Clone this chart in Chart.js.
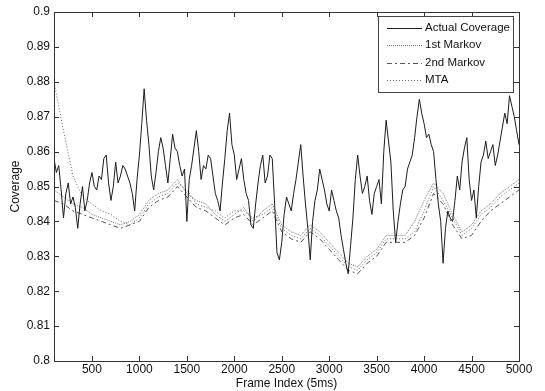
<!DOCTYPE html>
<html>
<head>
<meta charset="utf-8">
<script src="https://cdn.jsdelivr.net/npm/chart.js@4.4.0/dist/chart.umd.min.js"></script>
<style>
html, body { margin: 0; padding: 0; background: #fff; }
canvas { display: block; }
</style>
</head>
<body>
<canvas id="myChart" width="545" height="391"></canvas>
<script>
// frame index of each sample of the measured coverage (every 25 frames)
const actualFrames = [100, 125, 150, 175, 200, 225, 250, 275, 300, 325, 350, 375, 400, 425, 450, 475,
  500, 525, 550, 575, 600, 625, 650, 675, 700, 725, 750, 775, 800, 825, 850, 875, 900, 925, 950, 975,
  1000, 1025, 1050, 1075, 1100, 1125, 1150, 1175, 1200, 1225, 1250, 1275, 1300, 1325, 1350, 1375, 1400, 1425, 1450, 1475,
  1500, 1525, 1550, 1575, 1600, 1625, 1650, 1675, 1700, 1725, 1750, 1775, 1800, 1825, 1850, 1875, 1900, 1925, 1950, 1975,
  2000, 2025, 2050, 2075, 2100, 2125, 2150, 2175, 2200, 2225, 2250, 2275, 2300, 2325, 2350, 2375, 2400, 2425, 2450, 2475,
  2500, 2525, 2550, 2575, 2600, 2625, 2650, 2675, 2700, 2725, 2750, 2775, 2800, 2825, 2850, 2875, 2900, 2925, 2950, 2975,
  3000, 3025, 3050, 3075, 3100, 3125, 3150, 3175, 3200, 3225, 3250, 3275, 3300, 3325, 3350, 3375, 3400, 3425, 3450, 3475,
  3500, 3525, 3550, 3575, 3600, 3625, 3650, 3675, 3700, 3725, 3750, 3775, 3800, 3825, 3850, 3875, 3900, 3925, 3950, 3975,
  4000, 4025, 4050, 4075, 4100, 4125, 4150, 4175, 4200, 4225, 4250, 4275, 4300, 4325, 4350, 4375, 4400, 4425, 4450, 4475,
  4500, 4525, 4550, 4575, 4600, 4625, 4650, 4675, 4700, 4725, 4750, 4775, 4800, 4825, 4850, 4875, 4900, 4925, 4950, 4975, 5000];
const actualCoverage = [0.858, 0.854, 0.856, 0.849, 0.841, 0.848, 0.851, 0.845, 0.847, 0.844, 0.838, 0.845, 0.850, 0.843, 0.846, 0.851,
  0.854, 0.850, 0.849, 0.853, 0.852, 0.858, 0.859, 0.851, 0.846, 0.850, 0.857, 0.851, 0.853, 0.856, 0.855, 0.853, 0.851, 0.848, 0.843, 0.852,
  0.859, 0.868, 0.878, 0.869, 0.862, 0.853, 0.849, 0.854, 0.860, 0.864, 0.861, 0.856, 0.851, 0.858, 0.865, 0.861, 0.860, 0.856, 0.853, 0.855,
  0.840, 0.852, 0.856, 0.861, 0.866, 0.860, 0.852, 0.856, 0.855, 0.859, 0.858, 0.853, 0.848, 0.846, 0.843, 0.851, 0.858, 0.866, 0.871, 0.862,
  0.859, 0.852, 0.855, 0.858, 0.852, 0.848, 0.846, 0.839, 0.838, 0.845, 0.851, 0.856, 0.859, 0.851, 0.853, 0.859, 0.858, 0.845, 0.831, 0.829,
  0.834, 0.842, 0.847, 0.845, 0.843, 0.848, 0.852, 0.857, 0.862, 0.853, 0.845, 0.838, 0.829, 0.840, 0.846, 0.849, 0.855, 0.852, 0.849, 0.845,
  0.843, 0.849, 0.846, 0.843, 0.841, 0.836, 0.832, 0.828, 0.825, 0.833, 0.841, 0.852, 0.859, 0.853, 0.848, 0.850, 0.853, 0.846, 0.842, 0.848,
  0.850, 0.852, 0.845, 0.860, 0.869, 0.863, 0.857, 0.843, 0.834, 0.840, 0.845, 0.849, 0.850, 0.855, 0.857, 0.859, 0.864, 0.870, 0.875, 0.871,
  0.868, 0.864, 0.865, 0.862, 0.860, 0.852, 0.845, 0.840, 0.828, 0.838, 0.843, 0.841, 0.840, 0.846, 0.853, 0.849, 0.857, 0.861, 0.864, 0.852,
  0.846, 0.849, 0.841, 0.850, 0.857, 0.859, 0.863, 0.858, 0.860, 0.862, 0.856, 0.859, 0.863, 0.867, 0.871, 0.868, 0.876, 0.873, 0.870, 0.866, 0.862];

// predictor outputs (every 100 frames)
const modelFrames = [100, 200, 300, 400, 500, 600, 700, 800, 900, 1000, 1100, 1200, 1300, 1400, 1500, 1600, 1700, 1800, 1900, 2000,
  2100, 2200, 2300, 2400, 2500, 2600, 2700, 2800, 2900, 3000, 3100, 3200, 3300, 3400, 3500, 3600, 3700, 3800, 3900, 4000,
  4100, 4200, 4300, 4400, 4500, 4600, 4700, 4800, 4900, 5000];
const markov1 = [0.849, 0.847, 0.845, 0.844, 0.842, 0.841, 0.840, 0.839, 0.840, 0.842, 0.846, 0.848, 0.849, 0.852, 0.848, 0.846, 0.845, 0.842, 0.840, 0.842,
  0.844, 0.840, 0.843, 0.845, 0.839, 0.837, 0.836, 0.839, 0.837, 0.834, 0.831, 0.828, 0.827, 0.830, 0.832, 0.836, 0.836, 0.836, 0.840, 0.846,
  0.851, 0.848, 0.842, 0.837, 0.839, 0.843, 0.845, 0.848, 0.850, 0.852];
const markov2 = [0.846, 0.845, 0.843, 0.842, 0.841, 0.840, 0.839, 0.838, 0.839, 0.840, 0.844, 0.846, 0.847, 0.850, 0.847, 0.844, 0.843, 0.841, 0.839, 0.841,
  0.842, 0.839, 0.841, 0.843, 0.837, 0.835, 0.834, 0.837, 0.835, 0.832, 0.829, 0.826, 0.825, 0.828, 0.830, 0.834, 0.834, 0.834, 0.836, 0.841,
  0.848, 0.845, 0.839, 0.835, 0.836, 0.840, 0.843, 0.845, 0.847, 0.849];
const mta = [0.880, 0.866, 0.853, 0.847, 0.845, 0.843, 0.842, 0.840, 0.839, 0.841, 0.845, 0.847, 0.848, 0.851, 0.849, 0.845, 0.844, 0.843, 0.841, 0.843,
  0.843, 0.841, 0.842, 0.844, 0.838, 0.836, 0.835, 0.838, 0.836, 0.833, 0.830, 0.827, 0.826, 0.829, 0.831, 0.835, 0.835, 0.835, 0.837, 0.843,
  0.850, 0.846, 0.841, 0.836, 0.838, 0.842, 0.844, 0.847, 0.849, 0.851];

const seriesNames = ['Actual Coverage', '1st Markov', '2nd Markov', 'MTA'];
const xTicks = [500, 1000, 1500, 2000, 2500, 3000, 3500, 4000, 4500, 5000];
const yTicks = [0.8, 0.81, 0.82, 0.83, 0.84, 0.85, 0.86, 0.87, 0.88, 0.89, 0.9];

const FONT = 'Arial, "Liberation Sans", Helvetica, sans-serif';

function toPoints(xs, ys) {
  return xs.map((x, i) => ({ x: x, y: ys[i] }));
}

// MATLAB style box, inward ticks and the legend in the top right corner
const matlabBox = {
  id: 'matlabBox',
  afterDatasetsDraw(chart) {
    const ctx = chart.ctx;
    const a = chart.chartArea;
    const xs = chart.scales.x, ys = chart.scales.y;
    ctx.save();
    ctx.strokeStyle = '#333';
    ctx.lineWidth = 1;
    ctx.setLineDash([]);
    ctx.strokeRect(Math.round(a.left) + 0.5, Math.round(a.top) + 0.5, Math.round(a.right - a.left), Math.round(a.bottom - a.top));
    ctx.beginPath();
    xTicks.forEach(v => {
      const px = Math.round(xs.getPixelForValue(v)) + 0.5;
      ctx.moveTo(px, a.bottom); ctx.lineTo(px, a.bottom - 5);
      ctx.moveTo(px, a.top); ctx.lineTo(px, a.top + 5);
    });
    yTicks.forEach(v => {
      const py = Math.round(ys.getPixelForValue(v)) + 0.5;
      ctx.moveTo(a.left, py); ctx.lineTo(a.left + 5, py);
      ctx.moveTo(a.right, py); ctx.lineTo(a.right - 5, py);
    });
    ctx.stroke();

    // legend
    const lx = 378, ly = 16, lw = 135, lh = 76;
    ctx.fillStyle = '#fff';
    ctx.fillRect(lx, ly, lw, lh);
    ctx.strokeStyle = '#444';
    ctx.strokeRect(lx + 0.5, ly + 0.5, lw, lh);
    ctx.font = '11.5px ' + FONT;
    ctx.textBaseline = 'middle';
    ctx.textAlign = 'left';
    chart.data.datasets.forEach((ds, i) => {
      const yy = ly + 12 + i * 17.3;
      ctx.strokeStyle = ds.borderColor;
      ctx.lineWidth = 1;
      ctx.setLineDash(ds.borderDash || []);
      ctx.beginPath();
      ctx.moveTo(387, Math.round(yy) + 0.5);
      ctx.lineTo(422, Math.round(yy) + 0.5);
      ctx.stroke();
      ctx.fillStyle = '#111';
      ctx.fillText(seriesNames[i], 425, yy);
    });
    ctx.restore();
  }
};

const ctx = document.getElementById('myChart');
const chart = new Chart(ctx, {
  type: 'line',
  data: {
    datasets: [
      { label: seriesNames[0], data: toPoints(actualFrames, actualCoverage), borderColor: '#1c1c1c', borderWidth: 1 },
      { label: seriesNames[1], data: toPoints(modelFrames, markov1), borderColor: '#777', borderWidth: 1, borderDash: [1, 1] },
      { label: seriesNames[2], data: toPoints(modelFrames, markov2), borderColor: '#555', borderWidth: 1, borderDash: [5, 3, 2, 3] },
      { label: seriesNames[3], data: toPoints(modelFrames, mta), borderColor: '#666', borderWidth: 1, borderDash: [1, 2] }
    ]
  },
  options: {
    responsive: false,
    animation: false,
    layout: { padding: { top: 12, right: 26, left: 0, bottom: 0 } },
    elements: { point: { radius: 0 }, line: { tension: 0 } },
    plugins: { legend: { display: false }, tooltip: { enabled: false } },
    scales: {
      x: {
        type: 'linear',
        min: 100,
        max: 5000,
        afterBuildTicks: s => { s.ticks = xTicks.map(v => ({ value: v })); },
        afterFit: s => { s.height = 30; },
        grid: { display: false, drawTicks: false },
        border: { display: false },
        ticks: {
          padding: 1, color: '#111', font: { family: FONT, size: 12 }, maxRotation: 0, autoSkip: false,
          callback: v => String(v)
        },
        title: { display: true, text: 'Frame Index (5ms)', color: '#111', font: { family: FONT, size: 12 }, padding: { top: 0, bottom: 0 } }
      },
      y: {
        min: 0.8,
        max: 0.9,
        afterBuildTicks: s => { s.ticks = yTicks.map(v => ({ value: v })); },
        afterFit: s => { s.width = 54; },
        grid: { display: false, drawTicks: false },
        border: { display: false },
        ticks: {
          padding: 4, color: '#111', font: { family: FONT, size: 12 }, autoSkip: false,
          callback: v => String(Number(v.toFixed(2)))
        },
        title: { display: true, text: 'Coverage', color: '#111', font: { family: FONT, size: 12 }, padding: { top: 8, bottom: 0 } }
      }
    }
  },
  plugins: [matlabBox]
});
</script>
</body>
</html>
